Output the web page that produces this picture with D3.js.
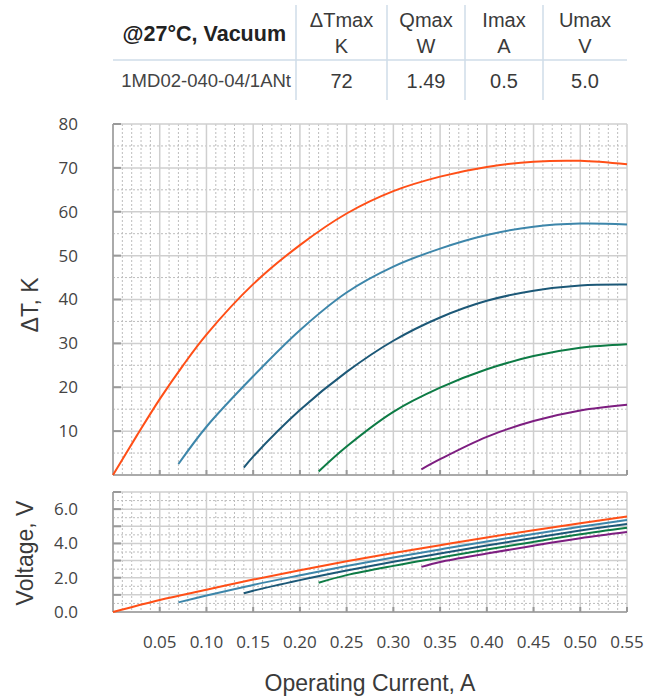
<!doctype html>
<html lang="en">
<head>
<meta charset="utf-8" />
<title>1MD02-040-04 performance</title>
<style>
	body { margin: 0; background: #fff; }
	svg { display: block; }
	.tick-label { font: 17px "Open Sans", sans-serif; fill: #444; }
	.axis-title { font: 23px "Liberation Sans", Arial, sans-serif; fill: #3a3a3a; }
	.tbl { font: 20px "Liberation Sans", Arial, sans-serif; fill: #3a3a3a; }
</style>
</head>
<body>
<svg id="chart" width="648" height="700"></svg>

<script src="https://cdn.jsdelivr.net/npm/d3@7/dist/d3.min.js"></script>
<script>
	// table
	var headerLabel = "@27°C, Vacuum";
	var tableHeads = [["ΔTmax", "K"], ["Qmax", "W"], ["Imax", "A"], ["Umax", "V"]];
	var modelName = "1MD02-040-04/1ANt";
	var tableValues = ["72", "1.49", "0.5", "5.0"];

	// axes
	var xTicks = [0.05, 0.10, 0.15, 0.20, 0.25, 0.30, 0.35, 0.40, 0.45, 0.50, 0.55];
	var dtTicks = [10, 20, 30, 40, 50, 60, 70, 80];
	var vTicks = [0, 2, 4, 6];

	// ΔT curves, [current A, ΔT K]
	var dtOrange = [[0, 0], [0.025, 8.8], [0.05, 17.3], [0.075, 25.0], [0.10, 32.0], [0.15, 43.5], [0.20, 52.4], [0.25, 59.6], [0.30, 64.7], [0.35, 68.0], [0.40, 70.2], [0.45, 71.4], [0.50, 71.6], [0.55, 70.8]];
	var dtLightBlue = [[0.07, 2.5], [0.10, 11.0], [0.15, 22.5], [0.20, 33.0], [0.25, 41.6], [0.30, 47.5], [0.35, 51.6], [0.40, 54.7], [0.45, 56.6], [0.50, 57.3], [0.55, 57.1]];
	var dtDarkBlue = [[0.14, 1.7], [0.15, 4.2], [0.20, 14.8], [0.25, 23.5], [0.30, 30.6], [0.35, 35.9], [0.40, 39.7], [0.45, 42.0], [0.50, 43.2], [0.55, 43.4]];
	var dtGreen = [[0.22, 0.8], [0.25, 6.5], [0.30, 14.4], [0.35, 19.9], [0.40, 24.1], [0.45, 27.1], [0.50, 29.0], [0.55, 29.8]];
	var dtPurple = [[0.33, 1.3], [0.35, 3.6], [0.40, 8.7], [0.45, 12.3], [0.50, 14.7], [0.55, 16.0]];

	// voltage curves, [current A, V]
	var vOrange = [[0, 0], [0.05, 0.70], [0.10, 1.30], [0.15, 1.89], [0.20, 2.44], [0.25, 2.96], [0.30, 3.44], [0.35, 3.90], [0.40, 4.35], [0.45, 4.77], [0.50, 5.18], [0.55, 5.57]];
	var vLightBlue = [[0.07, 0.56], [0.10, 0.96], [0.15, 1.58], [0.20, 2.14], [0.25, 2.68], [0.30, 3.18], [0.35, 3.65], [0.40, 4.11], [0.45, 4.55], [0.50, 4.97], [0.55, 5.37]];
	var vDarkBlue = [[0.14, 1.09], [0.15, 1.24], [0.20, 1.86], [0.25, 2.42], [0.30, 2.93], [0.35, 3.41], [0.40, 3.88], [0.45, 4.32], [0.50, 4.75], [0.55, 5.14]];
	var vGreen = [[0.22, 1.71], [0.25, 2.15], [0.30, 2.69], [0.35, 3.17], [0.40, 3.64], [0.45, 4.09], [0.50, 4.53], [0.55, 4.91]];
	var vPurple = [[0.33, 2.63], [0.35, 2.92], [0.40, 3.41], [0.45, 3.87], [0.50, 4.30], [0.55, 4.66]];

	var colors = ["#ff4f17", "#3d86aa", "#1c5877", "#0d7b45", "#7d1e80"];
	var dtSeries = [dtOrange, dtLightBlue, dtDarkBlue, dtGreen, dtPurple];
	var vSeries = [vOrange, vLightBlue, vDarkBlue, vGreen, vPurple];

	var svg = d3.select("#chart");
	var left = 113, right = 627;

	var x = d3.scaleLinear().domain([0, 0.55]).range([left, right]);
	var yT = d3.scaleLinear().domain([0, 80]).range([475, 124]);
	var yV = d3.scaleLinear().domain([0, 7]).range([612, 492]);

	function drawPanel(y, yMax, yMinorStep, yMajorStep, yTickVals, fmt, series) {
		var g = svg.append("g");
		var top = y(yMax), bottom = y(0);

		// minor grid (dotted)
		var xMinor = d3.range(1, 55).filter(function (d) { return d % 5 != 0; }).map(function (d) { return d / 100; });
		g.selectAll(".vminor").data(xMinor).enter().append("line")
			.attr("x1", function (d) { return x(d); }).attr("x2", function (d) { return x(d); })
			.attr("y1", top).attr("y2", bottom)
			.attr("stroke", "#bdbdbd").attr("stroke-width", 1).attr("stroke-dasharray", "2,2");
		var yMinor = d3.range(yMinorStep, yMax, yMajorStep);
		g.selectAll(".hminor").data(yMinor).enter().append("line")
			.attr("x1", left).attr("x2", right)
			.attr("y1", function (d) { return y(d); }).attr("y2", function (d) { return y(d); })
			.attr("stroke", "#bdbdbd").attr("stroke-width", 1).attr("stroke-dasharray", "2,2");

		// major grid
		g.selectAll(".vmajor").data(xTicks).enter().append("line")
			.attr("x1", function (d) { return x(d); }).attr("x2", function (d) { return x(d); })
			.attr("y1", top).attr("y2", bottom)
			.attr("stroke", "#cfcfcf").attr("stroke-width", 1.5);
		g.selectAll(".hmajor").data(d3.range(yMajorStep, yMax + 0.001, yMajorStep)).enter().append("line")
			.attr("x1", left).attr("x2", right)
			.attr("y1", function (d) { return y(d); }).attr("y2", function (d) { return y(d); })
			.attr("stroke", "#cfcfcf").attr("stroke-width", 1.5);

		// axis lines + inward ticks
		g.append("line").attr("x1", left).attr("x2", left).attr("y1", top).attr("y2", bottom)
			.attr("stroke", "#aaa").attr("stroke-width", 2);
		g.append("line").attr("x1", left).attr("x2", right).attr("y1", bottom).attr("y2", bottom)
			.attr("stroke", "#aaa").attr("stroke-width", 2);
		g.selectAll(".ytk").data(d3.range(yMajorStep, yMax + 0.001, yMajorStep)).enter().append("line")
			.attr("x1", left).attr("x2", left + 8)
			.attr("y1", function (d) { return y(d); }).attr("y2", function (d) { return y(d); })
			.attr("stroke", "#999").attr("stroke-width", 2);
		g.selectAll(".xtk").data(xTicks).enter().append("line")
			.attr("x1", function (d) { return x(d); }).attr("x2", function (d) { return x(d); })
			.attr("y1", bottom).attr("y2", bottom - 5)
			.attr("stroke", "#999").attr("stroke-width", 2);

		// y labels
		g.selectAll(".ylab").data(yTickVals).enter().append("text")
			.attr("class", "tick-label")
			.attr("x", 78).attr("y", function (d) { return y(d); })
			.attr("dy", "0.35em").attr("text-anchor", "end")
			.text(fmt);

		// curves
		var line = d3.line()
			.x(function (d) { return x(d[0]); })
			.y(function (d) { return y(d[1]); })
			.curve(d3.curveCatmullRom.alpha(0.5));
		series.forEach(function (s, i) {
			g.append("path").datum(s)
				.attr("d", line)
				.attr("fill", "none")
				.attr("stroke", colors[i])
				.attr("stroke-width", 2);
		});
	}

	drawPanel(yT, 80, 5, 10, dtTicks, function (d) { return d; }, dtSeries);
	drawPanel(yV, 7, 0.5, 1, vTicks, d3.format(".1f"), vSeries);

	// x labels
	svg.selectAll(".xlab").data(xTicks).enter().append("text")
		.attr("class", "tick-label")
		.attr("x", function (d) { return x(d); }).attr("y", 642)
		.attr("dy", "0.35em").attr("text-anchor", "middle")
		.text(d3.format(".2f"));

	// axis titles
	svg.append("text").attr("class", "axis-title")
		.attr("x", 370).attr("y", 691).attr("text-anchor", "middle")
		.text("Operating Current, A");
	svg.append("text").attr("class", "axis-title")
		.attr("transform", "translate(38,305) rotate(-90)").attr("text-anchor", "middle")
		.text("ΔT, K");
	svg.append("text").attr("class", "axis-title")
		.attr("transform", "translate(33,553) rotate(-90)").attr("text-anchor", "middle")
		.text("Voltage, V");

	// table
	var colEdges = [296, 387, 465, 543, 627];
	var tbl = svg.append("g");
	tbl.append("line").attr("x1", 113).attr("x2", 627).attr("y1", 60).attr("y2", 60)
		.attr("stroke", "#cfdde8").attr("stroke-width", 1.5);
	tbl.selectAll(".sep").data(colEdges.slice(0, 4)).enter().append("line")
		.attr("x1", function (d) { return d; }).attr("x2", function (d) { return d; })
		.attr("y1", 5).attr("y2", 100)
		.attr("stroke", "#cfdde8").attr("stroke-width", 1.5);
	tbl.append("text").attr("class", "tbl")
		.attr("x", 286).attr("y", 33).attr("dy", "0.35em").attr("text-anchor", "end")
		.style("font-weight", "bold").style("font-size", "21.5px").style("fill", "#222")
		.text(headerLabel);
	tableHeads.forEach(function (h, i) {
		var cx = (colEdges[i] + colEdges[i + 1]) / 2;
		tbl.append("text").attr("class", "tbl").attr("x", cx).attr("y", 20)
			.attr("dy", "0.35em").attr("text-anchor", "middle").text(h[0]);
		tbl.append("text").attr("class", "tbl").attr("x", cx).attr("y", 46)
			.attr("dy", "0.35em").attr("text-anchor", "middle").text(h[1]);
		tbl.append("text").attr("class", "tbl").attr("x", cx).attr("y", 81)
			.attr("dy", "0.35em").attr("text-anchor", "middle").text(tableValues[i]);
	});
	tbl.append("text").attr("class", "tbl")
		.attr("x", 291).attr("y", 81).attr("dy", "0.35em").attr("text-anchor", "end")
		.style("font-size", "18.5px").style("fill", "#444")
		.text(modelName);
</script>
</body>
</html>
